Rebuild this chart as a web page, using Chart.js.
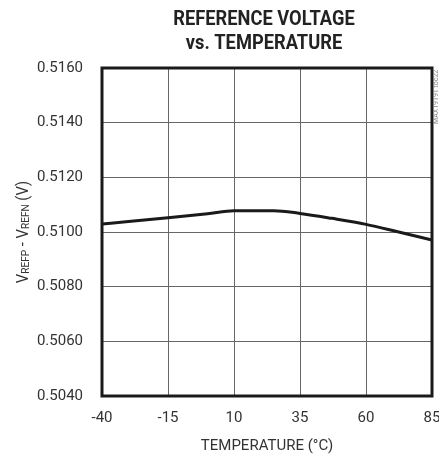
<!DOCTYPE html>
<html>
<head>
<meta charset="utf-8">
<script src="https://cdn.jsdelivr.net/npm/chart.js@4.4.0/dist/chart.umd.min.js"></script>
<style>
  html, body { margin: 0; padding: 0; background: #fff; }
  #wrap { width: 439px; height: 457px; }
</style>
</head>
<body>
<div id="wrap"><canvas id="chart"></canvas></div>
<script>
// values
const tempC = [-40, -30, -15, 0, 10, 25, 35, 47, 60, 72, 85];
const vRef = [0.51029, 0.51038, 0.51052, 0.51067, 0.51078, 0.51078, 0.51068, 0.51050, 0.51028, 0.51001, 0.50971];

const xTicks = [-40, -15, 10, 35, 60, 85];
const yTicks = [0.5040, 0.5060, 0.5080, 0.5100, 0.5120, 0.5140, 0.5160];

const titleLines = ['REFERENCE VOLTAGE', 'vs. TEMPERATURE'];

const FONT = "'Liberation Sans Narrow', 'Roboto', sans-serif";

// narrow bold title, frame, y-axis title with subscripts, side note
const extras = {
  id: 'extras',
  afterDraw(chart) {
    const { ctx, chartArea: a } = chart;

    ctx.save();
    ctx.fillStyle = '#222';
    ctx.font = 'bold 21px ' + FONT;
    ctx.textAlign = 'center';
    ctx.textBaseline = 'alphabetic';
    ctx.translate(264, 0);
    ctx.scale(0.87, 1);
    ctx.fillText(titleLines[0], 0, 25);
    ctx.fillText(titleLines[1], 0, 49);
    ctx.restore();

    ctx.save();
    ctx.strokeStyle = '#1a1a1a';
    ctx.lineWidth = 3;
    ctx.strokeRect(a.left, a.top, a.right - a.left, a.bottom - a.top);
    ctx.restore();

    // VREFP - VREFN (V)
    const parts = [
      { t: 'V', s: 16, dy: 0 },
      { t: 'REFP', s: 11, dy: 1 },
      { t: ' - V', s: 16, dy: 0 },
      { t: 'REFN', s: 11, dy: 1 },
      { t: ' (V)', s: 16, dy: 0 }
    ];
    ctx.save();
    let total = 0;
    parts.forEach(p => {
      ctx.font = p.s + 'px ' + FONT;
      p.w = ctx.measureText(p.t).width;
      total += p.w;
    });
    ctx.translate(28, (a.top + a.bottom) / 2);
    ctx.rotate(-Math.PI / 2);
    ctx.scale(0.92, 1);
    ctx.fillStyle = '#333';
    ctx.textBaseline = 'alphabetic';
    ctx.textAlign = 'left';
    let x = -total / 2;
    parts.forEach(p => {
      ctx.font = p.s + 'px ' + FONT;
      ctx.fillText(p.t, x, p.dy);
      x += p.w;
    });
    ctx.restore();

    ctx.save();
    ctx.translate(438, 124);
    ctx.rotate(-Math.PI / 2);
    ctx.font = '7px ' + FONT;
    ctx.fillStyle = '#888';
    ctx.textAlign = 'left';
    ctx.fillText('MAX19191 toc22', 0, 0);
    ctx.restore();
  }
};

new Chart(document.getElementById('chart'), {
  type: 'line',
  data: {
    datasets: [{
      data: tempC.map((t, i) => ({ x: t, y: vRef[i] })),
      borderColor: '#1a1a1a',
      borderWidth: 3,
      pointRadius: 0,
      cubicInterpolationMode: 'monotone',
      fill: false
    }]
  },
  options: {
    responsive: true,
    maintainAspectRatio: false,
    animation: false,
    layout: { padding: { left: 30, right: 7, top: 68, bottom: 0 } },
    plugins: {
      legend: { display: false },
      tooltip: { enabled: false },
      title: { display: false }
    },
    scales: {
      x: {
        type: 'linear',
        min: -40,
        max: 85,
        afterBuildTicks: s => { s.ticks = xTicks.map(v => ({ value: v })); },
        afterFit: s => {
          s.height = 61;
          s.paddingLeft = 0;
          s.paddingRight = 0;
        },
        ticks: {
          color: '#333',
          font: { family: FONT, size: 15 },
          padding: 13,
          maxRotation: 0,
          callback: v => String(v)
        },
        grid: { color: '#666', lineWidth: 1, drawTicks: false },
        border: { display: false },
        title: {
          display: true,
          text: 'TEMPERATURE (°C)',
          color: '#333',
          font: { family: FONT, size: 15 },
          padding: { top: 0, bottom: 2 }
        }
      },
      y: {
        type: 'linear',
        min: 0.504,
        max: 0.516,
        afterBuildTicks: s => { s.ticks = yTicks.map(v => ({ value: v })); },
        afterFit: s => { s.width = 72; },
        ticks: {
          color: '#333',
          font: { family: FONT, size: 15 },
          padding: 19,
          callback: v => Number(v).toFixed(4)
        },
        grid: { color: '#666', lineWidth: 1, drawTicks: false },
        border: { display: false }
      }
    }
  },
  plugins: [extras]
});
</script>
</body>
</html>
